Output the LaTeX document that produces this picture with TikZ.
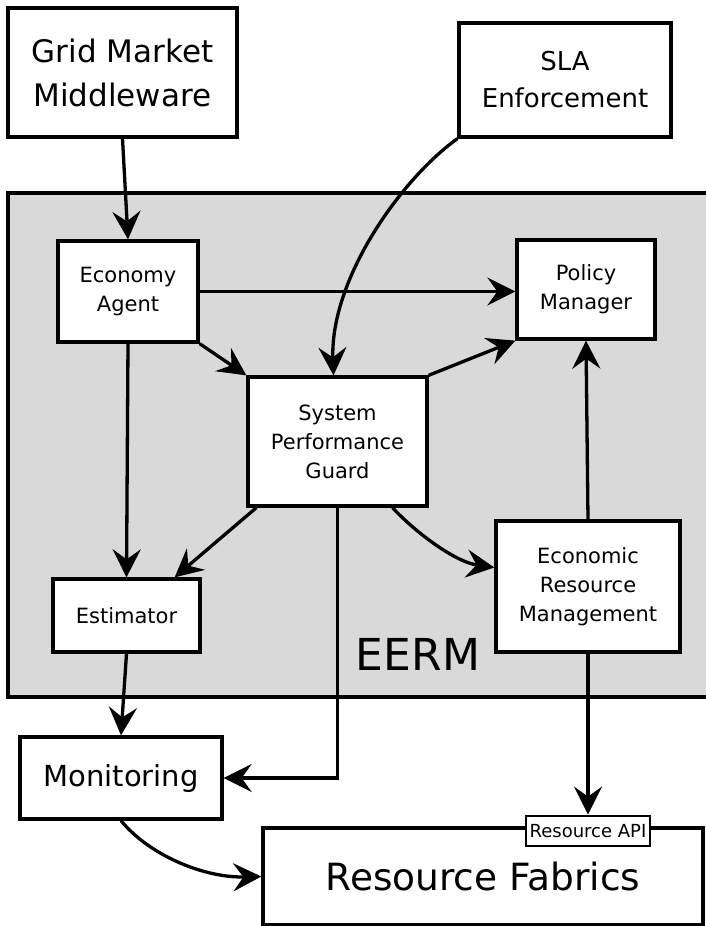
\documentclass[tikz,border=0pt]{standalone}
\usepackage{fontspec}
\setmainfont{DejaVu Sans}
\usetikzlibrary{arrows.meta,calc}
\definecolor{eermgray}{RGB}{217,217,217}
\begin{document}
\begin{tikzpicture}[x=1pt,y=-1pt,
  box/.style={draw, line width=3.3pt, fill=white, align=center, inner sep=0pt},
  arr/.style={line width=3.3pt, -{Stealth[length=28pt,width=28pt,inset=10pt]}},
  bigtxt/.style={font=\fontsize{29}{43}\selectfont},
  smalltxt/.style={font=\fontsize{21}{29}\selectfont}]
\useasboundingbox (0,0) rectangle (706,926);
% EERM region
\draw[fill=eermgray, line width=3.3pt] (8,193) rectangle (722,697);
\node[font=\fontsize{44}{44}\selectfont] (eerm) at (418,654) {EERM};
% outer boxes
\node[box, font=\fontsize{31}{44}\selectfont, minimum width=229pt, minimum height=129pt] (gmm) at (122.5,72.5) {Grid Market\\Middleware};
\node[box, font=\fontsize{26}{37}\selectfont, minimum width=212pt, minimum height=114pt] (sla) at (565,80) {SLA\\Enforcement};
% inner boxes
\node[box, smalltxt, minimum width=140pt, minimum height=101pt] (ea) at (128,291.5) {Economy\\Agent};
\node[box, smalltxt, minimum width=138pt, minimum height=99pt] (pm) at (586,289.5) {Policy\\Manager};
\node[box, smalltxt, minimum width=179pt, minimum height=129pt] (spg) at (337.5,441.5) {System\\Performance\\Guard};
\node[box, smalltxt, minimum width=147pt, minimum height=73pt] (est) at (126.5,615.5) {Estimator};
\node[box, smalltxt, minimum width=184pt, minimum height=131pt] (erm) at (588,586.5) {Economic\\Resource\\Management};
% bottom boxes
\node[box, bigtxt, minimum width=202pt, minimum height=82pt] (mon) at (121,778) {Monitoring};
\node[box, font=\fontsize{37.5}{37.5}\selectfont, minimum width=440pt, minimum height=97pt] (rf) at (483,876.5) {Resource Fabrics};
\node[box, line width=2.8pt, font=\fontsize{18}{18}\selectfont, minimum width=124pt, minimum height=30pt] (api) at (588,831) {Resource API};
% connectors
\draw[arr] (gmm.south) -- (ea.north);
\draw[arr] (ea.east) -- (ea.east -| pm.west);
\draw[arr] (ea.south east) -- (spg.north west);
\draw[arr] (sla.south west) .. controls (400,180) and (330,280) .. ($(spg.north)+(-4,0)$);
\draw[arr] (spg.north east) -- (pm.south west);
\draw[arr] (erm.north) -- (pm.south);
\draw[arr] ($(spg.south west)+(10,0)$) -- ($(est.north east)+(-27,0)$);
\draw[arr] (ea.south) -- (est.north);
\draw[arr] ($(spg.south)+(55,0)$) .. controls (415,532) and (455,562) .. ($(erm.west)+(0,-19)$);
\draw[arr] (est.south) -- (mon.north);
\draw[arr] (spg.south) |- (mon.east);
\draw[arr] (mon.south) .. controls (150,856) and (205,878) .. (rf.west);
\draw[arr] (erm.south) -- (api.north);
\end{tikzpicture}
\end{document}
